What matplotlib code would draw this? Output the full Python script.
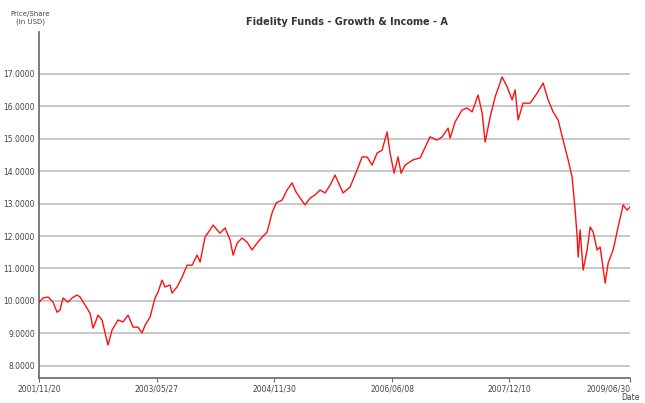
import matplotlib
matplotlib.use("Agg")
import matplotlib.pyplot as plt
import numpy as np

# fractional year of each reading, NAV in USD
years = [2001.885, 2001.937, 2002.001, 2002.065, 2002.117, 2002.155, 2002.194, 2002.258,
         2002.310, 2002.374, 2002.413, 2002.477, 2002.542, 2002.580, 2002.606, 2002.644,
         2002.696, 2002.735, 2002.773, 2002.825, 2002.902, 2002.966, 2003.031, 2003.095,
         2003.159, 2003.211, 2003.250, 2003.314, 2003.378, 2003.417, 2003.468, 2003.507,
         2003.571, 2003.597, 2003.661, 2003.726, 2003.790, 2003.855, 2003.919, 2003.958,
         2004.022, 2004.086, 2004.125, 2004.176, 2004.215, 2004.279, 2004.344, 2004.383,
         2004.434, 2004.498, 2004.563, 2004.627, 2004.691, 2004.756, 2004.820, 2004.884,
         2004.936, 2005.013, 2005.077, 2005.142, 2005.193, 2005.245, 2005.309, 2005.373,
         2005.438, 2005.502, 2005.567, 2005.631, 2005.695, 2005.798, 2005.888, 2005.979,
         2006.043, 2006.107, 2006.172, 2006.236, 2006.300, 2006.365, 2006.403, 2006.455,
         2006.506, 2006.545, 2006.596, 2006.699, 2006.790, 2006.918, 2007.008, 2007.073,
         2007.150, 2007.176, 2007.240, 2007.330, 2007.395, 2007.459, 2007.536, 2007.588,
         2007.627, 2007.691, 2007.755, 2007.845, 2007.910, 2007.974, 2008.013, 2008.051,
         2008.115, 2008.206, 2008.296, 2008.373, 2008.437, 2008.502, 2008.566, 2008.630,
         2008.695, 2008.746, 2008.785, 2008.811, 2008.824, 2008.849, 2008.888, 2008.939,
         2008.978, 2009.017, 2009.068, 2009.107, 2009.171, 2009.210, 2009.274, 2009.338,
         2009.403, 2009.454, 2009.493]
price = [9.96, 10.09, 10.12, 9.96, 9.65, 9.72, 10.09, 9.96,
         10.09, 10.18, 10.12, 9.87, 9.62, 9.16, 9.31, 9.56,
         9.41, 9.01, 8.64, 9.10, 9.41, 9.35, 9.56, 9.19,
         9.19, 9.01, 9.25, 9.50, 10.09, 10.27, 10.64, 10.43,
         10.49, 10.24, 10.43, 10.73, 11.10, 11.10, 11.41, 11.20,
         11.97, 12.19, 12.34, 12.19, 12.09, 12.25, 11.88, 11.41,
         11.78, 11.94, 11.81, 11.57, 11.78, 11.97, 12.12, 12.71,
         13.02, 13.11, 13.42, 13.64, 13.36, 13.17, 12.96, 13.17,
         13.27, 13.42, 13.33, 13.57, 13.88, 13.33, 13.51, 14.04,
         14.44, 14.44, 14.19, 14.56, 14.65, 15.21, 14.56, 13.94,
         14.44, 13.94, 14.19, 14.35, 14.41, 15.06, 14.96, 15.06,
         15.33, 15.02, 15.52, 15.89, 15.95, 15.83, 16.35, 15.80,
         14.90, 15.67, 16.29, 16.91, 16.60, 16.20, 16.51, 15.58,
         16.10, 16.10, 16.41, 16.72, 16.20, 15.83, 15.58, 14.96,
         14.35, 13.82, 12.80, 11.97, 11.35, 12.19, 10.95, 11.57,
         12.28, 12.12, 11.57, 11.66, 10.55, 11.17, 11.57, 12.28,
         12.96, 12.80, 12.90]

tick_dates = ["2001/11/20", "2003/05/27", "2004/11/30", "2006/06/08", "2007/12/10", "2009/06/30"]
y_ticks = [8, 9, 10, 11, 12, 13, 14, 15, 16, 17]


def frac_year(s):
    y, m, d = (int(p) for p in s.split("/"))
    days = [31, 29 if y % 4 == 0 else 28, 31, 30, 31, 30, 31, 31, 30, 31, 30, 31]
    n = sum(days[:m - 1]) + d - 1
    return y + n / (366 if y % 4 == 0 else 365)


fig = plt.figure(figsize=(6.45, 4.03), dpi=100)
ax = fig.add_axes([0.0605, 0.062, 0.9165, 0.859])

ax.plot(years, price, color="#ff1010", linewidth=1.0, zorder=3)

ax.set_xlim(frac_year(tick_dates[0]), frac_year(tick_dates[-1]))
ax.set_ylim(7.62, 18.3)

ax.set_yticks(y_ticks)
ax.set_yticklabels(["%.4f" % v for v in y_ticks])
ax.set_xticks([frac_year(s) for s in tick_dates])
ax.set_xticklabels(tick_dates)
# last date sits on the right edge; keep it inside the picture
ax.get_xticklabels()[-1].set_horizontalalignment("right")
ax.get_xticklabels()[-1].set_x(frac_year(tick_dates[-1]) + 0.1)

ax.grid(axis="y", color="#c8c8c8", linewidth=1.4)
ax.set_axisbelow(True)
for s in ["top", "right"]:
    ax.spines[s].set_visible(False)
for s in ["left", "bottom"]:
    ax.spines[s].set_color("#666666")
    ax.spines[s].set_linewidth(1.2)

ax.tick_params(axis="both", labelsize=5.5, colors="#666666", labelcolor="#444444",
               length=3, width=0.8, pad=2)
ax.tick_params(axis="y", length=0, pad=3)

fig.text(0.538, 0.945, "Fidelity Funds - Growth & Income - A", ha="center",
         va="center", fontsize=7, color="#333333", fontweight="bold")
fig.text(0.047, 0.955, "Price/Share\n(in USD)", ha="center", va="center",
         fontsize=5, color="#444444", linespacing=1.2)
fig.text(0.978, 0.002, "Date", ha="center", va="bottom", fontsize=5.5, color="#444444")

fig.savefig("out.png", dpi=100)
